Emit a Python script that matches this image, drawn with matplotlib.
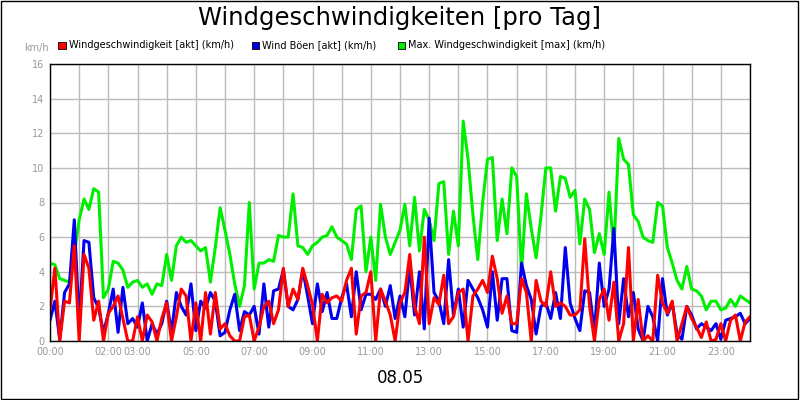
import numpy as np
import matplotlib
matplotlib.use("Agg")
import matplotlib.pyplot as plt
from matplotlib.patches import Rectangle

# 10-minute samples, 00:00 .. 24:00 (values in km/h)
wind_akt = [
    1.8, 4.2, 0, 2.3, 2.2, 5.5,
    0, 5.0, 4.2, 1.2, 2.3, 0,
    1.6, 2.0, 2.6, 1.3, 0, 0,
    1.4, 0, 1.5, 1.1, 0, 1.3,
    2.2, 0, 1.4, 3.0, 2.6, 0,
    2.2, 0, 2.8, 0.4, 2.8, 0.7,
    1.0, 0.3, 0, 0, 1.4, 1.5,
    0, 0.8, 2.0, 2.3, 1.0, 1.8,
    4.2, 2.0, 3.0, 2.4, 4.2, 3.2,
    2.1, 0, 2.7, 2.2, 2.5, 2.6,
    2.3, 3.5, 4.2, 0.4, 2.6, 2.8,
    4.0, 0, 3.0, 2.3, 1.5, 0,
    2.2, 2.8, 5.0, 2.0, 1.0, 6.0,
    1.0, 2.5, 2.1, 3.8, 1.0, 1.4,
    2.8, 3.0, 0, 2.6, 3.0, 3.5,
    2.8, 4.9, 3.6, 1.6, 2.6, 1.0,
    1.0, 3.6, 2.8, 0, 3.5, 2.3,
    2.0, 4.0, 2.0, 2.2, 2.0, 1.5,
    1.5, 1.8, 5.9, 2.0, 0, 2.4,
    3.0, 1.2, 3.4, 0, 1.0, 5.4,
    0, 2.4, 0, 0.3, 0, 3.8,
    2.2, 1.6, 2.3, 0, 1.0, 2.0,
    1.3, 0.8, 0.2, 1.1, 0, 0.1,
    1.0, 0, 1.2, 1.5, 0, 1.1,
    1.4,
]
wind_boeen = [
    1.2, 2.3, 0.1, 2.8, 3.3, 7.0,
    1.0, 5.8, 5.7, 2.5, 1.9, 0.5,
    1.6, 3.0, 0.5, 3.1, 1.0, 1.3,
    0.8, 2.2, 0.0, 1.0, 0.4, 1.0,
    2.3, 0.5, 2.8, 2.0, 1.5, 3.3,
    0.6, 2.3, 1.9, 2.8, 2.3, 0.3,
    0.5, 1.8, 2.7, 0.6, 1.7, 1.5,
    2.0, 0.4, 3.3, 0.8, 2.9, 3.0,
    4.1, 2.0, 1.8, 2.4, 4.1, 2.6,
    1.0, 3.3, 1.7, 2.8, 1.3, 1.3,
    2.5, 3.3, 1.4, 4.0, 1.8, 2.7,
    2.7, 2.4, 3.0, 2.0, 3.2, 1.3,
    2.6, 1.4, 4.3, 1.5, 4.0, 0.7,
    7.1, 2.8, 2.3, 1.0, 4.7, 1.5,
    3.0, 0.8, 3.5, 3.0, 2.5, 1.8,
    0.8, 4.0, 1.2, 3.6, 3.6, 0.6,
    0.5, 4.5, 3.2, 2.4, 0.4, 2.0,
    2.2, 1.3, 2.8, 1.3, 5.4, 2.2,
    1.3, 0.6, 2.9, 2.8, 0.5, 4.5,
    2.0, 3.0, 6.5, 1.0, 3.6, 1.4,
    2.8, 0.7, 0.0, 2.0, 1.4, 0.0,
    3.6, 1.5, 2.2, 0.4, 0.1, 2.0,
    1.5, 0.7, 1.0, 0.8, 0.6, 1.0,
    0.1, 1.2, 1.3, 1.4, 1.6, 1.0,
    1.3,
]
wind_max = [
    4.5, 4.4, 3.6, 3.5, 3.4, 5.0,
    7.0, 8.2, 7.6, 8.8, 8.6, 2.5,
    3.0, 4.6, 4.5, 4.1, 3.1, 3.4,
    3.5, 3.1, 3.3, 2.7, 3.3, 3.2,
    5.0, 3.5, 5.5, 6.0, 5.7, 5.8,
    5.5, 5.2, 5.4, 3.4, 5.4, 7.7,
    6.4, 5.0, 3.3, 2.0, 3.2, 8.0,
    3.0, 4.5, 4.5, 4.7, 4.6, 6.1,
    6.0, 6.0, 8.5, 5.5, 5.4, 5.0,
    5.5, 5.7, 6.0, 6.1, 6.6, 6.0,
    5.8, 5.6, 4.7, 7.6, 7.8, 4.0,
    6.0, 3.5, 7.9, 6.0, 5.0, 5.7,
    6.4, 7.9, 5.5, 8.3, 5.2, 7.6,
    7.0, 5.8, 9.1, 9.2, 5.0, 7.5,
    5.5, 12.7, 10.5, 7.3, 4.7, 8.0,
    10.5, 10.6, 5.8, 8.2, 6.2, 10.0,
    9.5, 4.0, 8.5, 6.5, 4.8, 7.2,
    10.0, 10.0, 7.5, 9.5, 9.4, 8.3,
    8.7, 5.6, 8.2, 7.6, 5.1, 6.2,
    5.0, 8.6, 5.2, 11.7, 10.5, 10.2,
    7.3, 6.9, 6.0, 5.8, 5.7, 8.0,
    7.8, 5.4, 4.5, 3.5, 3.0, 4.3,
    3.0, 2.9, 2.6, 1.8, 2.3, 2.3,
    1.8, 1.9, 2.4, 2.0, 2.6, 2.4,
    2.2,
]
hours = np.arange(len(wind_max)) / 6.0
tick_hours = [0, 2, 3, 5, 7, 9, 11, 13, 15, 17, 19, 21, 23]
tick_labels = ["%02d:00" % h for h in tick_hours]
y_ticks = list(range(0, 17, 2))

fig = plt.figure(figsize=(8, 4), dpi=100)
fig.patches.append(Rectangle((0.001, 0.002), 0.997, 0.995, transform=fig.transFigure,
                             fill=False, edgecolor="black", linewidth=1))
ax = fig.add_axes([0.0625, 0.1475, 0.875, 0.6925])

ax.plot(hours, wind_max, color="#00ee00", linewidth=2.2)
ax.plot(hours, wind_boeen, color="#0000ee", linewidth=2.2)
ax.plot(hours, wind_akt, color="#ff0000", linewidth=2.2)

ax.set_xlim(0, 24)
ax.set_ylim(0, 16)
ax.set_xticks(np.arange(0, 25, 1), minor=True)
ax.set_xticks(tick_hours)
ax.set_xticklabels(tick_labels, fontsize=7, color="#999999")
ax.set_yticks(y_ticks)
ax.set_yticklabels([str(v) for v in y_ticks], fontsize=7, color="#999999")
ax.grid(True, which="both", color="#bbbbbb", linewidth=1)
ax.set_axisbelow(True)
ax.tick_params(which="both", length=0, pad=4)
for s in ax.spines.values():
    s.set_linewidth(1)

fig.text(0.5, 0.955, "Windgeschwindigkeiten [pro Tag]", ha="center", va="center", fontsize=17.5)
fig.text(0.045, 0.88, "km/h", ha="center", va="center", fontsize=7, color="#999999")
fig.text(0.5, 0.055, "08.05", ha="center", va="center", fontsize=12)

legend = [("Windgeschwindigkeit [akt] (km/h)", "#ff0000", 0.073),
          ("Wind Böen [akt] (km/h)", "#0000ee", 0.315),
          ("Max. Windgeschwindigkeit [max] (km/h)", "#00ee00", 0.497)]
for text, col, x in legend:
    fig.patches.append(Rectangle((x, 0.878), 0.009, 0.018, transform=fig.transFigure,
                                 facecolor=col, edgecolor="black", linewidth=0.6))
    fig.text(x + 0.013, 0.887, text, ha="left", va="center", fontsize=7)

fig.savefig("out.png", dpi=100)
